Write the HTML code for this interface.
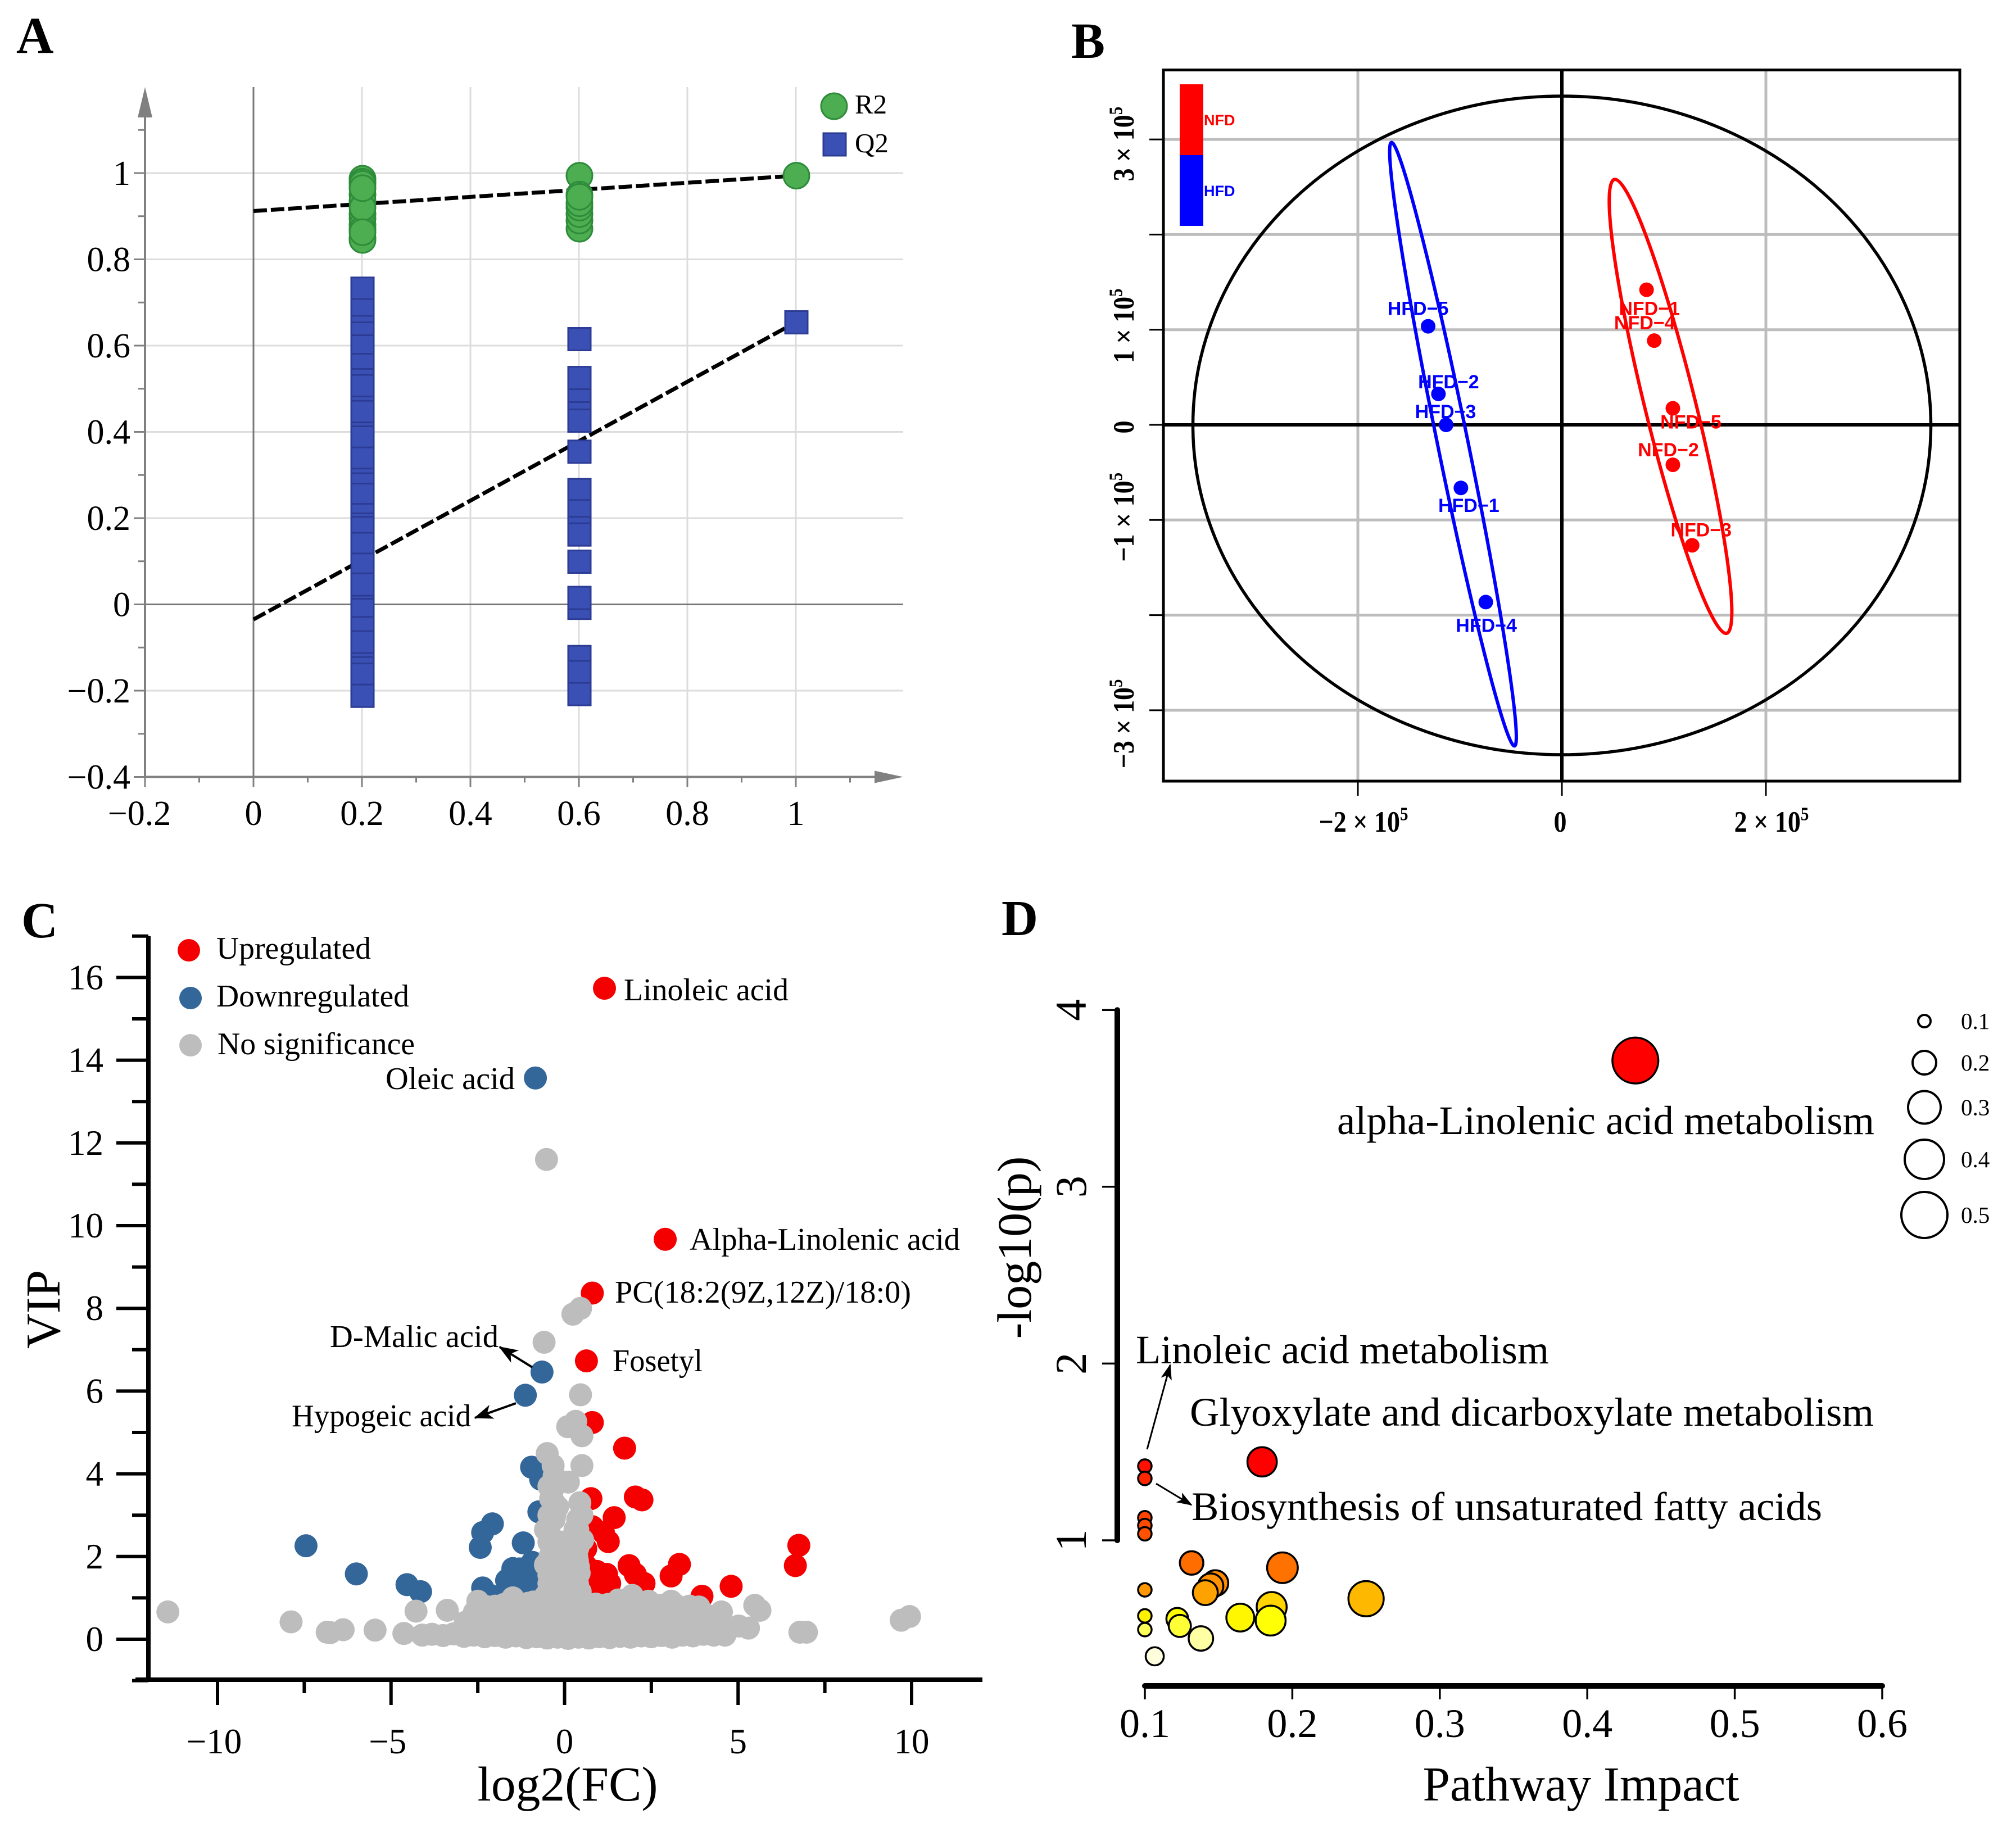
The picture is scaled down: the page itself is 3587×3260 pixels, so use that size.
<!DOCTYPE html>
<html lang="en">
<head>
<meta charset="utf-8">
<title>Metabolomics figure panels A-D</title>
<style>
html,body{margin:0;padding:0;background:#fff;}
svg{display:block;font-family:"Liberation Serif",serif;}
</style>
</head>
<body>
<svg id="fig" xmlns="http://www.w3.org/2000/svg" width="3587" height="3260" viewBox="0 0 3587 3260">
<defs>
<marker id="arrowC" markerUnits="userSpaceOnUse" markerWidth="34" markerHeight="26" refX="32" refY="13" orient="auto"><path d="M0,0 L34,13 L0,26 L9,13 Z" fill="#000"/></marker>
<marker id="arrowD" markerUnits="userSpaceOnUse" markerWidth="28" markerHeight="20" refX="26" refY="10" orient="auto"><path d="M0,0 L28,10 L0,20 L7,10 Z" fill="#000"/></marker>
</defs>
<rect x="0" y="0" width="3587" height="3260" fill="#fff"/>

<text x="29" y="94" font-size="92" font-weight="bold">A</text>
<text x="1906" y="103" font-size="90" font-weight="bold">B</text>
<text x="38" y="1668" font-size="90" font-weight="bold">C</text>
<text x="1782" y="1664" font-size="90" font-weight="bold">D</text>

<g id="panelA"></g>
<g id="panelB"></g>
<g id="panelC"></g>
<g id="panelD"></g>

<g>
<circle cx="1484" cy="189" r="23" fill="#4cae50" stroke="#2e8b3a" stroke-width="3"/>
<text x="1521" y="202" font-size="49">R2</text>
<rect x="1465" y="237" width="40" height="40" fill="#3b50b5" stroke="#2c3c95" stroke-width="3"/>
<text x="1521" y="271" font-size="49">Q2</text>
</g>

<g>
<rect x="2099" y="150" width="42" height="126" fill="#ff0000"/>
<rect x="2099" y="276" width="42" height="126" fill="#0000ff"/>
<text x="2142" y="223" font-size="27" font-weight="bold" fill="#ff0000" style="font-family:'Liberation Sans',sans-serif">NFD</text>
<text x="2142" y="349" font-size="27" font-weight="bold" fill="#0000ff" style="font-family:'Liberation Sans',sans-serif">HFD</text>
</g>

<g>
<circle cx="336" cy="1691" r="20" fill="#f40000"/>
<circle cx="339" cy="1776" r="20" fill="#336699"/>
<circle cx="339" cy="1860" r="20" fill="#bdbdbd"/>
<text x="385" y="1706" font-size="56" textLength="275" lengthAdjust="spacingAndGlyphs">Upregulated</text>
<text x="385" y="1791" font-size="56" textLength="343" lengthAdjust="spacingAndGlyphs">Downregulated</text>
<text x="387" y="1876" font-size="56" textLength="351" lengthAdjust="spacingAndGlyphs">No significance</text>
<text x="1110" y="1780" font-size="56" textLength="293" lengthAdjust="spacingAndGlyphs">Linoleic acid</text>
<text x="686" y="1938" font-size="56" textLength="230" lengthAdjust="spacingAndGlyphs">Oleic acid</text>
<text x="1227" y="2224" font-size="56" textLength="481" lengthAdjust="spacingAndGlyphs">Alpha-Linolenic acid</text>
<text x="1094" y="2318" font-size="56" textLength="527" lengthAdjust="spacingAndGlyphs">PC(18:2(9Z,12Z)/18:0)</text>
<text x="587" y="2397" font-size="56" textLength="300" lengthAdjust="spacingAndGlyphs">D-Malic acid</text>
<text x="1090" y="2440" font-size="56" textLength="160" lengthAdjust="spacingAndGlyphs">Fosetyl</text>
<text x="519" y="2538" font-size="56" textLength="319" lengthAdjust="spacingAndGlyphs">Hypogeic acid</text>
<line x1="947" y1="2433" x2="889" y2="2397" stroke="#000" stroke-width="4" marker-end="url(#arrowC)"/>
<line x1="918" y1="2497" x2="845" y2="2523" stroke="#000" stroke-width="4" marker-end="url(#arrowC)"/>
<text x="1010" y="3204" font-size="87" text-anchor="middle" textLength="321" lengthAdjust="spacingAndGlyphs">log2(FC)</text>
<text transform="translate(106,2330) rotate(-90)" font-size="87" text-anchor="middle">VIP</text>
</g>

<g>
<text x="2379" y="2018" font-size="72" textLength="956" lengthAdjust="spacingAndGlyphs">alpha-Linolenic acid metabolism</text>
<text x="2021" y="2426" font-size="72" textLength="735" lengthAdjust="spacingAndGlyphs">Linoleic acid metabolism</text>
<text x="2117" y="2537" font-size="72" textLength="1217" lengthAdjust="spacingAndGlyphs">Glyoxylate and dicarboxylate metabolism</text>
<text x="2120" y="2705" font-size="72" textLength="1122" lengthAdjust="spacingAndGlyphs">Biosynthesis of unsaturated fatty acids</text>
<line x1="2041" y1="2579" x2="2082" y2="2429" stroke="#000" stroke-width="3" marker-end="url(#arrowD)"/>
<line x1="2057" y1="2640" x2="2120" y2="2678" stroke="#000" stroke-width="3" marker-end="url(#arrowD)"/>
<text x="2813" y="3204" font-size="87" text-anchor="middle" textLength="563" lengthAdjust="spacingAndGlyphs">Pathway Impact</text>
<text transform="translate(1834,2220) rotate(-90)" font-size="86" text-anchor="middle">-log10(p)</text>
</g>

<script>
// ---------- Panel A data ----------
const aTickX = [-0.2, 0, 0.2, 0.4, 0.6, 0.8, 1];
const aTickY = [-0.4, -0.2, 0, 0.2, 0.4, 0.6, 0.8, 1];
const r2At02 = [0.987, 0.98, 0.975, 0.95, 0.935, 0.905, 0.895, 0.88, 0.87, 0.85, 0.845, 0.92, 0.863, 0.965];
const r2At06 = [0.994, 0.871, 0.89, 0.905, 0.92, 0.93, 0.95, 0.945];
const r2At10 = [0.994];
const q2At02 = [0.732, 0.682, 0.643, 0.628, 0.598, 0.555, 0.52, 0.506, 0.456, 0.446, 0.396, 0.387, 0.338, 0.289, 0.278, 0.254, 0.207, 0.185, 0.177, 0.14, 0.092, 0.046, -0.006, -0.013, -0.055, -0.088, -0.139, -0.148, -0.163, -0.212];
const q2At06 = [0.615, 0.495, 0.525, 0.443, 0.426, 0.354, 0.265, 0.216, 0.177, 0.162, 0.099, -0.008, 0.015, -0.122, -0.157, -0.208];
const q2At10 = [0.654];
const r2Fit = [0.912, 0.994];
const q2Fit = [-0.035, 0.654];

// ---------- Panel B data (units of 1e5) ----------
const bGridX = [-2, 0, 2];
const bGridY = [3, 2, 1, 0, -1, -2, -3];
const bLabelY = [3, 1, 0, -1, -3];
const hfdNames = ["HFD−5", "HFD−2", "HFD−3", "HFD−1", "HFD−4"];
const hfdScores = [[-1.311, 1.036], [-1.21, 0.325], [-1.135, 0], [-0.99, -0.663], [-0.746, -1.863]];
const nfdNames = ["NFD−1", "NFD−4", "NFD−5", "NFD−2", "NFD−3"];
const nfdScores = [[0.83, 1.42], [0.905, 0.885], [1.088, 0.174], [1.088, -0.42], [1.277, -1.266]];

// ---------- Panel C data ----------
const cTickX = [-10, -5, 0, 5, 10];
const cTickY = [0, 2, 4, 6, 8, 10, 12, 14, 16];
const upPoints = [[1.15,15.74],[2.9,9.67],[0.8,8.37],[0.63,6.73],[0.8,5.24],[1.73,4.62],[0.76,3.4],[2.04,3.44],[2.23,3.37],[1.43,2.94],[0.8,2.72],[1.12,2.58],[1.26,2.36],[6.75,2.27],[6.65,1.78],[0.61,2.19],[0.61,1.78],[1.86,1.78],[2.04,1.57],[2.29,1.35],[3.31,1.81],[3.07,1.53],[4.8,1.28],[3.96,1.04],[1.21,1.57],[1.02,1.42],[1.1,1.28],[0.74,1.5],[0.69,1.28],[1.3,1.35],[0.93,1.64]];
const downPoints = [[-0.84,13.57],[-0.65,6.46],[-1.13,5.9],[-0.95,4.16],[-0.69,3.87],[-0.74,3.08],[-2.08,2.79],[-2.36,2.58],[-2.43,2.22],[-1.19,2.33],[-7.45,2.26],[-6.0,1.58],[-4.54,1.32],[-4.15,1.15],[-2.36,1.24],[-2.14,1.06],[-1.49,1.71],[-0.93,1.86],[-1.21,1.64],[-1.67,1.42],[-1.39,1.35],[-1.02,1.5],[-0.74,1.64],[-0.84,1.35],[-1.58,1.14],[-1.21,1.14],[-0.65,1.21],[-1.6,1.47],[-1.3,1.7],[-1.05,1.75],[-1.0,1.3],[-0.8,1.8],[-1.25,1.35]];
const nonsigOutliers = [[-11.43,0.66],[-7.88,0.42],[-6.84,0.17],[-6.75,0.16],[-6.38,0.23],[-5.46,0.22],[-4.63,0.14],[-4.28,0.68],[-3.38,0.7],[4.52,0.66],[5.48,0.82],[5.63,0.7],[6.78,0.17],[6.97,0.17],[9.7,0.46],[9.94,0.55],[-0.52,11.6],[0.46,8.0],[0.24,7.86],[-0.59,7.18],[0.46,5.91],[0.32,5.27],[0.09,5.14],[0.5,4.92],[-0.5,4.49],[-0.33,4.2],[0.5,4.2],[0.11,3.8]];
const nonsigColumn = [[-0.3,3.95],[-0.45,3.7],[-0.4,3.4],[-0.2,3.2],[-0.45,3.0],[0.44,3.3],[0.5,3.0],[0.3,2.65],[0.52,2.4],[-0.55,2.65],[-0.45,2.35],[-0.36,2.1],[-0.1,2.1],[0.1,1.95],[0.2,1.65],[-0.55,1.8],[-0.3,1.55],[0,1.5],[0.37,1.35],[-0.45,1.35],[0.37,1.9],[0.3,2.2],[-0.3,2.9],[0.42,1.6],[0.35,2.0],[0.45,1.15],[-0.5,1.1],[0,1.0],[0.28,2.45],[0.1,1.2],[-0.2,1.2],[-0.3,2.2],[0,1.9],[-0.45,2.6]];
const nonsigColumnFill = [[-0.45,1.55],[-0.15,1.4],[0.1,1.45],[0.38,1.0],[-0.15,1.75],[0.15,1.3],[-0.25,1.85],[0.15,2.2],[0.38,2.2],[-0.1,2.35],[-0.28,3.0],[-0.35,3.6],[-0.3,3.3],[0.38,2.65],[0.38,2.9],[0.4,1.75],[-0.42,2.0]];
const nonsigLowRow = [[-4.1,0.1],[-3.82,0.12],[-3.5,0.09],[-3.2,0.13],[-2.9,0.07],[-2.62,0.1],[-2.3,0.06],[-2,0.09],[-1.7,0.05],[-1.4,0.08],[-1.1,0.04],[-0.8,0.06],[-0.5,0.03],[-0.2,0.05],[0.1,0.02],[0.4,0.05],[0.7,0.03],[1,0.06],[1.3,0.04],[1.6,0.07],[1.9,0.05],[2.2,0.08],[2.5,0.06],[2.8,0.09],[3.1,0.05],[3.4,0.1],[3.7,0.08],[4,0.12],[4.3,0.1],[4.62,0.1]];
const nonsigRowA = [[-2.7,0.28],[-2.3,0.3],[-1.95,0.27],[-1.6,0.26],[-1.25,0.3],[-0.9,0.25],[-0.55,0.29],[-0.25,0.27],[0.1,0.26],[0.45,0.3],[0.8,0.25],[1.15,0.29],[1.5,0.27],[1.85,0.3],[2.2,0.26],[2.55,0.28],[2.9,0.25],[3.25,0.3],[3.6,0.27],[3.95,0.26]];
const nonsigMidRow = [[-2.86,0.41],[-2.45,0.46],[-2,0.42],[-1.55,0.48],[-1.1,0.43],[-0.65,0.49],[-0.2,0.44],[0.25,0.5],[0.7,0.45],[1.15,0.48],[1.6,0.44],[2.05,0.47],[2.5,0.43],[2.95,0.46],[3.4,0.42],[3.85,0.45],[4.18,0.35],[4.05,0.6],[4.75,0.28],[5.02,0.32],[5.3,0.27]];
const nonsigRowB = [[-2.6,0.65],[-2.25,0.63],[-1.9,0.66],[-1.55,0.64],[-1.2,0.67],[-0.85,0.63],[-0.5,0.66],[-0.15,0.64],[0.2,0.67],[0.55,0.65],[0.9,0.63],[1.25,0.66],[1.6,0.64],[1.95,0.67],[2.3,0.63],[2.65,0.65],[3,0.64],[3.35,0.62],[3.7,0.6]];
const nonsigTopRow = [[-2.5,0.92],[-2.44,0.85],[-2,0.8],[-1.49,1.0],[-1.05,0.87],[-0.9,0.9],[-0.55,1.05],[-0.1,0.95],[0.4,0.88],[0.9,0.85],[1.25,0.84],[1.55,0.95],[1.95,1.06],[2.42,0.92],[2.75,0.82],[3.07,0.92],[3.44,0.7],[3.6,0.8],[3.87,0.78],[-2.3,0.8],[-1.75,0.84],[-1.3,0.83],[-0.75,0.86],[-0.3,0.85],[0.15,0.83],[0.65,0.86],[1.05,0.82],[1.45,0.86],[1.8,0.85],[2.15,0.84],[2.6,0.83],[2.95,0.85],[3.25,0.8]];

// ---------- Panel D data ----------
const dTickX = [0.1, 0.2, 0.3, 0.4, 0.5, 0.6];
const dTickY = [1, 2, 3, 4];
const pathwayImpact = [0.4326, 0.1795, 0.1, 0.1, 0.1, 0.1, 0.1, 0.1317, 0.1933, 0.1478, 0.1446, 0.141, 0.1, 0.25, 0.186, 0.1, 0.122, 0.1647, 0.1853, 0.1237, 0.1, 0.138, 0.1067];
const pathwayLogP = [3.714, 1.444, 1.42, 1.35, 1.128, 1.084, 1.037, 0.872, 0.845, 0.758, 0.741, 0.704, 0.72, 0.67, 0.623, 0.573, 0.556, 0.563, 0.546, 0.516, 0.495, 0.445, 0.344];
const sizeLegendValues = [0.1, 0.2, 0.3, 0.4, 0.5];

// ---------- helpers ----------
const NS = "http://www.w3.org/2000/svg";
function mk(parent, tag, attrs, txt) {
  const el = document.createElementNS(NS, tag);
  for (const k in attrs) el.setAttribute(k, attrs[k]);
  if (txt !== undefined) el.textContent = txt;
  parent.appendChild(el);
  return el;
}
const fmt = v => String(v).replace("-", "−");

// ---------- Panel A ----------
(function () {
  const g = document.getElementById("panelA");
  const X = v => 451 + 965 * v;
  const Y = v => 1075.5 - 767.5 * v;
  const right = 1607, top = 155;
  for (const v of [0.2, 0.4, 0.6, 0.8, 1]) {
    const l = mk(g, "line", {x1: X(v), x2: X(v), y1: top, y2: Y(-0.4), stroke: "#dcdcdc", "stroke-width": 3});
    
    
  }
  for (const v of [-0.2, 0.2, 0.4, 0.6, 0.8, 1]) {
    const l = mk(g, "line", {x1: X(-0.2), x2: right, y1: Y(v), y2: Y(v), stroke: "#dcdcdc", "stroke-width": 3});
    
    
  }
  const zx = mk(g, "line", {x1: X(0), x2: X(0), y1: top, y2: Y(-0.4), stroke: "#777", "stroke-width": 3});
  
  
  const zy = mk(g, "line", {x1: X(-0.2), x2: right, y1: Y(0), y2: Y(0), stroke: "#777", "stroke-width": 3});
  
  
  const ax = mk(g, "line", {x1: X(-0.2), x2: right - 20, y1: Y(-0.4), y2: Y(-0.4), stroke: "#808080", "stroke-width": 4});
  
  
  const ay = mk(g, "line", {x1: X(-0.2), x2: X(-0.2), y1: top + 20, y2: Y(-0.4), stroke: "#808080", "stroke-width": 4});
  
  
  const ahx = mk(g, "polygon", {points: `${right},${Y(-0.4)} ${right - 51},${Y(-0.4) - 11} ${right - 51},${Y(-0.4) + 11}`, fill: "#808080"});
  
  
  const ahy = mk(g, "polygon", {points: `${X(-0.2)},${top} ${X(-0.2) - 13},${top + 54} ${X(-0.2) + 13},${top + 54}`, fill: "#808080"});
  
  
  for (let i = -2; i <= 11; i++) {
    const v = i / 10, major = (i % 2 === 0);
    const t = mk(g, "line", {x1: X(v), x2: X(v), y1: Y(-0.4), y2: Y(-0.4) + (major ? 18 : 10), stroke: "#808080", "stroke-width": 3});
    
    
  }
  for (let i = -4; i <= 11; i++) {
    const v = i / 10, major = (i % 2 === 0);
    const t = mk(g, "line", {x1: X(-0.2) - (major ? 20 : 12), x2: X(-0.2), y1: Y(v), y2: Y(v), stroke: "#808080", "stroke-width": 3});
    
    
  }
  for (const v of aTickX) {
    const t = mk(g, "text", {x: X(v) - (v < 0 ? 10 : 0), y: 1468, "font-size": 62, "text-anchor": "middle"}, fmt(v));
    
    
  }
  for (const v of aTickY) {
    const t = mk(g, "text", {x: 232, y: Y(v) + 21, "font-size": 62, "text-anchor": "end"}, fmt(v));
    
    
  }
  const f1 = mk(g, "line", {x1: X(0), y1: Y(r2Fit[0]), x2: X(1), y2: Y(r2Fit[1]), stroke: "#000", "stroke-width": 7, "stroke-dasharray": "24 7"});
  
  
  const f2 = mk(g, "line", {x1: X(0), y1: Y(q2Fit[0]), x2: X(1), y2: Y(q2Fit[1]), stroke: "#000", "stroke-width": 7, "stroke-dasharray": "24 7"});
  
  
  const drawR2 = (vals, xv) => {
    for (const v of vals) {
      const c = mk(g, "circle", {cx: X(xv) + 1, cy: Y(v), r: 23, fill: "#4cae50", stroke: "#2e8b3a", "stroke-width": 3});
      
      
    }
  };
  const drawQ2 = (vals, xv) => {
    for (const v of vals) {
      const s = mk(g, "rect", {x: X(xv) + 1 - 20, y: Y(v) - 20, width: 40, height: 40, fill: "#3b50b5", stroke: "#2c3c95", "stroke-width": 3});
      
      
    }
  };
  drawR2(r2At02, 0.2); drawR2(r2At06, 0.6); drawR2(r2At10, 1);
  drawQ2(q2At02, 0.2); drawQ2(q2At06, 0.6); drawQ2(q2At10, 1);
})();

// ---------- Panel B ----------
(function () {
  const g = document.getElementById("panelB");
  const X = v => 2779 + 181.5 * v;
  const Y = v => 756 - 169.3 * v;
  const L = 2070, R = 3487, T = 124.5, B = 1390;
  for (const v of bGridX) {
    if (v === 0) continue;
    const l = mk(g, "line", {x1: X(v), x2: X(v), y1: T, y2: B, stroke: "#bdbdbd", "stroke-width": 5});
    
    
  }
  for (const v of bGridY) {
    if (v === 0) continue;
    const l = mk(g, "line", {x1: L, x2: R, y1: Y(v), y2: Y(v), stroke: "#bdbdbd", "stroke-width": 5});
    
    
  }
  const z1 = mk(g, "line", {x1: X(0), x2: X(0), y1: T, y2: B, stroke: "#000", "stroke-width": 6});
  
  
  const z2 = mk(g, "line", {x1: L, x2: R, y1: Y(0), y2: Y(0), stroke: "#000", "stroke-width": 6});
  
  
  const hot = mk(g, "ellipse", {cx: 2779, cy: 757, rx: 656.5, ry: 586, fill: "none", stroke: "#000", "stroke-width": 5.5});
  
  
  const fr = mk(g, "rect", {x: L, y: T, width: R - L, height: B - T, fill: "none", stroke: "#000", "stroke-width": 5});
  
  
  for (const v of bGridX) {
    const t = mk(g, "line", {x1: X(v), x2: X(v), y1: B, y2: B + 26, stroke: "#000", "stroke-width": 3});
    
    
  }
  for (const v of bGridY) {
    const t = mk(g, "line", {x1: L - 25, x2: L, y1: Y(v), y2: Y(v), stroke: "#000", "stroke-width": 3});
    
    
  }
  const sci = (v, transform, name) => {
    const t = mk(g, "text", {transform, "font-size": 46, "font-weight": "bold", "text-anchor": "middle"});
    
    
    if (v === 0) { t.textContent = "0"; return t; }
    t.appendChild(document.createTextNode(fmt(v) + " × 10"));
    const s = mk(t, "tspan", {dy: -18, "font-size": 29}, "5");
    
    
    return t;
  };
  for (const v of bGridX) {
    sci(v, `translate(${X(v) + (v === 0 ? -3 : 10)},1480) scale(1,1.15)`, "x-tick-label");
  }
  const nudge = [8, -7, 4, -5, 24];
  bLabelY.forEach((v, i) => {
    sci(v, `translate(2017,${Y(v) + nudge[i]}) rotate(-90) scale(1,1.15)`, "y-tick-label");
  });
  const ellipseFrom = (pts, rx, ry, angle, dx, dy, color, name) => {
    const n = pts.length;
    const mx = pts.reduce((a, p) => a + p[0], 0) / n;
    const my = pts.reduce((a, p) => a + p[1], 0) / n;
    const cx = X(mx) + dx, cy = Y(my) + dy;
    const e = mk(g, "ellipse", {cx, cy, rx, ry, fill: "none", stroke: color, "stroke-width": 6, transform: `rotate(${angle} ${cx} ${cy})`});
    
    
  };
  ellipseFrom(hfdScores, 27, 548, -11.53, 2, -5, "#0000ff", "hfd-confidence-ellipse");
  ellipseFrom(nfdScores, 45, 416, -13.9, 5, -6, "#ff0000", "nfd-confidence-ellipse");
  const hfdOff = [[-18, -32], [18, -22], [-1, -24], [14, 31], [1, 41]];
  const nfdOff = [[5, 33], [-17, -32], [32, 24], [-8, -27], [16, -28]];
  const drawGroup = (pts, names, off, color, ptName, lblName) => {
    pts.forEach((p, i) => {
      const c = mk(g, "circle", {cx: X(p[0]), cy: Y(p[1]), r: 13, fill: color});
      
      
      const t = mk(g, "text", {x: X(p[0]) + off[i][0], y: Y(p[1]) + off[i][1] + 12, "font-size": 34, "font-weight": "bold", fill: color, "text-anchor": "middle", style: "font-family:'Liberation Sans',sans-serif"}, names[i]);
      
      
    });
  };
  drawGroup(hfdScores, hfdNames, hfdOff, "#0000ff", "hfd-sample-point", "hfd-sample-label");
  drawGroup(nfdScores, nfdNames, nfdOff, "#ff0000", "nfd-sample-point", "nfd-sample-label");
})();

// ---------- Panel C ----------
(function () {
  const g = document.getElementById("panelC");
  const X = v => 1004.5 + 61.75 * v;
  const Y = v => 2917 - 73.6 * v;
  const ay = mk(g, "line", {x1: 264, x2: 264, y1: Y(17), y2: 2992, stroke: "#000", "stroke-width": 8});
  
  
  const ax = mk(g, "line", {x1: 241, x2: 1748, y1: 2989, y2: 2989, stroke: "#000", "stroke-width": 8});
  
  
  for (let i = -1; i <= 17; i++) {
    const major = (i % 2 === 0);
    const t = mk(g, "line", {x1: major ? 207 : 235, x2: 264, y1: Y(i), y2: Y(i), stroke: "#000", "stroke-width": 6});
    
    
  }
  for (let i = -4; i <= 4; i++) {
    const v = i * 2.5, major = (i % 2 === 0);
    const t = mk(g, "line", {x1: X(v), x2: X(v), y1: 2989, y2: major ? 3034 : 3013, stroke: "#000", "stroke-width": 6});
    
    
  }
  for (const v of cTickY) {
    const t = mk(g, "text", {x: 184, y: Y(v) + 21, "font-size": 63, "text-anchor": "end"}, fmt(v));
    
    
  }
  for (const v of cTickX) {
    const t = mk(g, "text", {x: X(v) - (v < 0 ? 6 : 0), y: 3120, "font-size": 63, "text-anchor": "middle"}, fmt(v));
    
    
  }
  for (const p of upPoints) {
    const c = mk(g, "circle", {cx: X(p[0]), cy: Y(p[1]), r: 20.5, fill: "#f40000"});
    
    
  }
  for (const p of downPoints) {
    const c = mk(g, "circle", {cx: X(p[0]), cy: Y(p[1]), r: 20.5, fill: "#336699"});
    
    
  }
  for (const arr of [nonsigOutliers, nonsigColumn, nonsigColumnFill, nonsigLowRow, nonsigRowA, nonsigMidRow, nonsigRowB, nonsigTopRow]) {
    for (const p of arr) {
      const c = mk(g, "circle", {cx: X(p[0]), cy: Y(p[1]), r: 20.5, fill: "#bdbdbd"});
      
      
    }
  }
})();

// ---------- Panel D ----------
(function () {
  const g = document.getElementById("panelD");
  const X = v => 2037 + 2624 * (v - 0.1);
  const Y = v => 2741 - 314.6 * (v - 1);
  const R = v => 12 + 50 * Math.sqrt(Math.max(0, v - 0.1));
  const stops = [[0.34,[255,255,224]],[0.45,[255,255,160]],[0.55,[255,255,0]],[0.67,[255,184,0]],[0.72,[255,152,0]],[0.85,[255,112,0]],[1.04,[255,80,0]],[1.4,[255,32,0]],[1.44,[255,0,0]],[4,[255,0,0]]];
  const heat = v => {
    for (let i = 1; i < stops.length; i++) {
      if (v <= stops[i][0]) {
        const a = stops[i - 1], b = stops[i], t = Math.max(0, (v - a[0]) / (b[0] - a[0]));
        return "rgb(" + a[1].map((c, k) => Math.round(c + (b[1][k] - c) * t)).join(",") + ")";
      }
    }
    return "rgb(255,0,0)";
  };
  const ay = mk(g, "line", {x1: 1988, x2: 1988, y1: Y(4), y2: Y(1), stroke: "#000", "stroke-width": 10, "stroke-linecap": "round"});
  
  
  const ax = mk(g, "line", {x1: X(0.1), x2: X(0.6), y1: 3000, y2: 3000, stroke: "#000", "stroke-width": 10, "stroke-linecap": "round"});
  
  
  for (const v of dTickY) {
    const t = mk(g, "line", {x1: 1961, x2: 1988, y1: Y(v), y2: Y(v), stroke: "#000", "stroke-width": 3.5});
    
    
    const l = mk(g, "text", {transform: `translate(1932,${Y(v)}) rotate(-90)`, "font-size": 78, "text-anchor": "middle"}, String(v));
    
    
  }
  for (const v of dTickX) {
    const t = mk(g, "line", {x1: X(v), x2: X(v), y1: 3000, y2: 3024, stroke: "#000", "stroke-width": 3.5});
    
    
    const l = mk(g, "text", {x: X(v), y: 3091, "font-size": 72, "text-anchor": "middle"}, v.toFixed(1));
    
    
  }
  pathwayImpact.forEach((x, i) => {
    const y = pathwayLogP[i];
    const c = mk(g, "circle", {cx: X(x), cy: Y(y), r: R(x), fill: heat(y), stroke: "#000", "stroke-width": 3.5});
    
    
  });
  const legendY = [1817, 1891, 1970.5, 2063, 2162];
  const legendR = [11, 21, 29, 35, 41];
  sizeLegendValues.forEach((v, i) => {
    const c = mk(g, "circle", {cx: 3424, cy: legendY[i], r: legendR[i], fill: "#fff", stroke: "#000", "stroke-width": 4});
    
    
    const t = mk(g, "text", {x: 3489, y: legendY[i] + 14, "font-size": 41}, v.toFixed(1));
    
    
  });
})();
</script>
</svg>
</body>
</html>
